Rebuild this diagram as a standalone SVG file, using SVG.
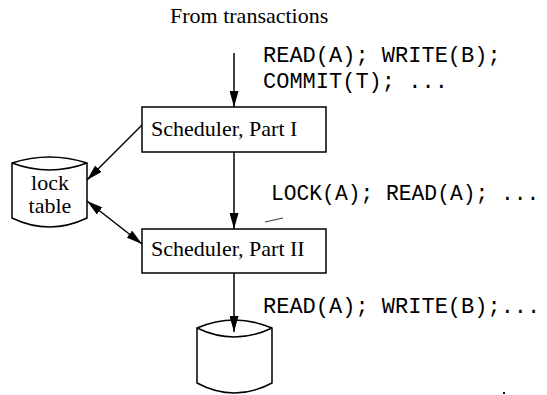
<svg xmlns="http://www.w3.org/2000/svg" width="547" height="395" viewBox="0 0 547 395">
  <style>
    .serif { font-family: "Liberation Serif", "Times New Roman", serif; font-size: 22px; fill: #000; }
    .mono { font-family: "Liberation Mono", "Courier New", monospace; font-size: 22px; fill: #000; }
    .box { fill: #fff; stroke: #000; stroke-width: 1.5; }
    .cyl { fill: #fff; stroke: #000; stroke-width: 1.5; }
    .edge { fill: none; stroke: #000; stroke-width: 1.5; }
  </style>
  <defs>
    <marker id="arrow" markerUnits="userSpaceOnUse" markerWidth="16" markerHeight="9" refX="16" refY="4.5" orient="auto-start-reverse">
      <path d="M0,0 L16,4.5 L0,9 z" fill="#000"/>
    </marker>
  </defs>
  <rect width="547" height="395" fill="#fff"/>

  <text class="serif" x="170" y="23">From transactions</text>
  <text class="mono" x="263" y="62">READ(A); WRITE(B);</text>
  <text class="mono" x="263" y="88">COMMIT(T); ...</text>
  <text class="mono" x="271" y="200" style="font-size:21.3px">LOCK(A); READ(A); ...</text>
  <text class="mono" x="263" y="313">READ(A); WRITE(B);...</text>

  <g id="scheduler1">
    <rect class="box" x="142" y="107" width="184" height="45"/>
    <text class="serif" x="151" y="136">Scheduler, Part I</text>
  </g>
  <g id="scheduler2">
    <rect class="box" x="142" y="229" width="184" height="44"/>
    <text class="serif" x="151" y="256">Scheduler, Part II</text>
  </g>
  <g id="locktable">
    <path class="cyl" d="M12,163 Q49.5,151 87,163 L87,218 Q49.5,236 12,218 Z"/>
    <path class="edge" d="M12,163 Q49.5,177 87,163"/>
    <text class="serif" x="50" y="190" text-anchor="middle">lock</text>
    <text class="serif" x="50" y="213" text-anchor="middle">table</text>
  </g>
  <g id="database">
    <path class="cyl" d="M197,328 Q234.5,312 272,328 L272,383 Q234.5,403 197,383 Z"/>
    <path class="edge" d="M197,328 Q234.5,346 272,328"/>
  </g>

  <g id="connectors">
    <line class="edge" x1="234" y1="53" x2="234" y2="107" marker-end="url(#arrow)"/>
    <line class="edge" x1="234" y1="152" x2="234" y2="229" marker-end="url(#arrow)"/>
    <line class="edge" x1="234" y1="273" x2="234" y2="332" marker-end="url(#arrow)"/>
    <line class="edge" x1="142" y1="125" x2="87" y2="180" marker-end="url(#arrow)"/>
    <line class="edge" x1="87" y1="201" x2="142" y2="244" marker-start="url(#arrow)" marker-end="url(#arrow)"/>
  </g>

  <line x1="265" y1="222" x2="283" y2="218" stroke="#333" stroke-width="1"/>
  <rect x="503" y="392" width="2" height="2" fill="#000"/>
</svg>
